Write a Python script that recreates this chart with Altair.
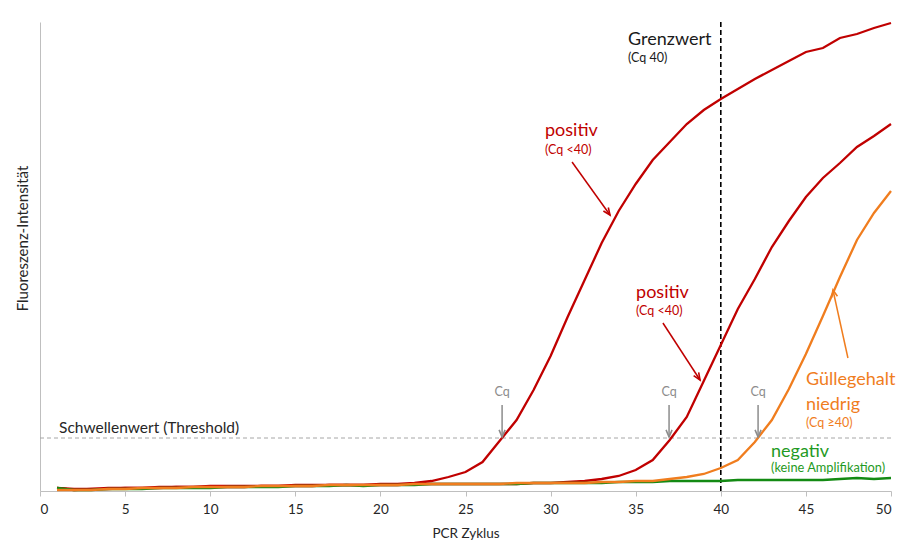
import math
import altair as alt
import pandas as pd

# ---------------- data ----------------
cycles = list(range(1, 51))

positiv_frueh = [3, 2, 2, 3, 3, 3, 4, 4, 4, 5, 5, 5, 5, 5, 6, 6, 6, 6, 6, 7,
                 7, 8, 10, 14, 19, 29, 50, 71, 101, 135, 174, 211, 248, 280, 307, 331, 349, 367, 381, 392,
                 402, 412, 421, 430, 439, 443, 453, 457, 463, 468]
positiv_spaet = [3, 1, 2, 2, 3, 3, 3, 4, 4, 4, 4, 4, 5, 5, 5, 5, 6, 6, 6, 6,
                 6, 7, 7, 7, 7, 7, 7, 7, 8, 8, 9, 10, 12, 15, 21, 31, 51, 74, 110, 146,
                 182, 212, 244, 270, 294, 313, 328, 344, 355, 367]
guelle_niedrig = [1, 1, 1, 2, 2, 3, 3, 3, 4, 4, 4, 4, 5, 5, 5, 5, 6, 6, 6, 6,
                  6, 7, 7, 7, 7, 7, 7, 8, 8, 8, 8, 8, 9, 9, 10, 10, 12, 14, 17, 23,
                  31, 49, 71, 102, 137, 175, 214, 251, 278, 300]
negativ = [3, 1, 1, 2, 2, 2, 3, 3, 3, 3, 4, 4, 4, 4, 5, 5, 5, 6, 5, 6,
           6, 6, 7, 7, 7, 7, 7, 7, 8, 8, 8, 8, 8, 9, 9, 9, 10, 10, 10, 10,
           11, 11, 11, 11, 11, 11, 12, 13, 12, 13]

threshold = 53
grenzwert_cycle = 40
y_max = 469
x_ticks = list(range(0, 51, 5))

RED = "#c00000"
ORANGE = "#f07d1e"
GREEN_LINE = "#138a13"
GREEN_TEXT = "#1f9a24"
GRAY = "#8c8c8c"

# annotations (data coordinates)
texts_left = [
    # x, y, text, color, size
    (34.55, 451, "Grenzwert", "#1a1a1a", 18),
    (34.55, 433, "(Cq 40)", "#1a1a1a", 12.5),
    (29.67, 360, "positiv", RED, 18),
    (29.67, 341, "(Cq <40)", RED, 12.5),
    (35.02, 198, "positiv", RED, 18),
    (35.02, 180, "(Cq <40)", RED, 12.5),
    (1.12, 63, "Schwellenwert (Threshold)", "#262626", 15.5),
    (45.0, 111, "Güllegehalt", ORANGE, 18),
    (45.0, 86, "niedrig", ORANGE, 18),
    (45.0, 68, "(Cq ≥40)", ORANGE, 12.5),
    (42.95, 39, "negativ", GREEN_TEXT, 18),
    (42.95, 23, "(keine Amplifikation)", GREEN_TEXT, 12.8),
]
cq_positions = [27.15, 36.96, 42.19]
cq_label_y = 99
cq_arrow_top = 86
cq_arrow_tip = 54

arrows = [
    # x, y, x2 (tip), y2 (tip), color
    (31.26, 329, 33.49, 276, RED),
    (36.60, 168, 38.78, 111, RED),
    (47.47, 133, 46.59, 201, ORANGE),
] + [(c, cq_arrow_top, c, cq_arrow_tip, GRAY) for c in cq_positions]

# ---------------- chart ----------------
W, H = 851, 469
px_x = W / 50
px_y = H / y_max
FONT = "Lato"

series_df = pd.DataFrame({
    "cycle": cycles * 4,
    "v": positiv_frueh + positiv_spaet + negativ + guelle_niedrig,
    "serie": (["a"] * 50) + (["b"] * 50) + (["c"] * 50) + (["d"] * 50),
})

x_enc = alt.X("cycle:Q", scale=alt.Scale(domain=[0, 50], nice=False, zero=False),
              axis=alt.Axis(values=x_ticks, title="PCR Zyklus", grid=False,
                            domainColor="#bfbfbf", tickColor="#bfbfbf", tickSize=5,
                            labelFont=FONT, labelFontSize=13.5, labelColor="#262626",
                            labelPadding=6, titleFont=FONT, titleFontSize=13.5,
                            titleFontWeight="normal", titleColor="#262626",
                            titleY=42, titleBaseline="middle"))
y_enc = alt.Y("v:Q", scale=alt.Scale(domain=[0, y_max], nice=False),
              axis=alt.Axis(title="Fluoreszenz-Intensität", labels=False, ticks=False,
                            grid=False, domainColor="#bfbfbf", titleFont=FONT,
                            titleFontSize=15, titleFontWeight="normal",
                            titleColor="#262626", titleX=-18, titleY=216,
                            titleAlign="center", titleBaseline="middle"))

lines = alt.Chart(series_df).mark_line(strokeWidth=2.3, interpolate="linear").encode(
    x=x_enc, y=y_enc,
    color=alt.Color("serie:N", scale=alt.Scale(domain=["a", "b", "c", "d"],
                                               range=[RED, RED, GREEN_LINE, ORANGE]),
                    legend=None),
    order=alt.Order("cycle:Q"),
    detail="serie:N",
)

thr_df = pd.DataFrame({"cycle": [0], "cycle2": [50], "v": [threshold]})
thr = alt.Chart(thr_df).mark_rule(color="#a6a6a6", strokeWidth=1, strokeDash=[4, 3]).encode(
    x="cycle:Q", x2="cycle2:Q", y="v:Q")

gz_df = pd.DataFrame({"cycle": [grenzwert_cycle], "v": [0], "v2": [y_max]})
gz = alt.Chart(gz_df).mark_rule(color="#000000", strokeWidth=1.6, strokeDash=[5, 3]).encode(
    x="cycle:Q", y="v:Q", y2="v2:Q")

tl_df = pd.DataFrame(texts_left, columns=["cycle", "v", "text", "color", "size"])
tl = alt.Chart(tl_df).mark_text(align="left", baseline="middle", font=FONT).encode(
    x="cycle:Q", y="v:Q", text="text:N",
    color=alt.Color("color:N", scale=None),
    size=alt.Size("size:Q", scale=None))

cq_df = pd.DataFrame({"cycle": cq_positions, "v": [cq_label_y] * len(cq_positions),
                      "text": ["Cq"] * len(cq_positions)})
cq = alt.Chart(cq_df).mark_text(align="center", baseline="middle", font=FONT,
                                fontSize=12.5, color=GRAY).encode(
    x="cycle:Q", y="v:Q", text="text:N")

ar_rows = []
for x0, y0, x1, y1, col in arrows:
    dx = (x1 - x0) * px_x
    dy = -(y1 - y0) * px_y
    ang = math.degrees(math.atan2(dx, -dy)) % 360
    ar_rows.append({"cycle": x0, "v": y0, "cycle2": x1, "v2": y1, "color": col, "angle": ang})
ar_df = pd.DataFrame(ar_rows)

ar_lines = alt.Chart(ar_df).mark_rule(strokeWidth=1.5).encode(
    x="cycle:Q", y="v:Q", x2="cycle2:Q", y2="v2:Q",
    color=alt.Color("color:N", scale=None))

ar_heads = alt.Chart(ar_df).mark_point(
    shape="M -0.55 1.3 L 0 0 L 0.55 1.3", filled=False, strokeWidth=1.6, size=120, opacity=1
).encode(
    x=alt.X("cycle2:Q"), y=alt.Y("v2:Q"),
    color=alt.Color("color:N", scale=None),
    angle=alt.Angle("angle:Q", scale=None))

chart = alt.layer(thr, gz, lines, ar_lines, ar_heads, tl, cq).properties(
    width=W, height=H,
    autosize=alt.AutoSizeParams(type="none"),
    padding={"left": 32, "top": 14, "right": 5, "bottom": 55},
    background="#ffffff",
).configure_view(stroke=None)

chart.save("out.html", embed_options={"renderer": "svg", "actions": False})
